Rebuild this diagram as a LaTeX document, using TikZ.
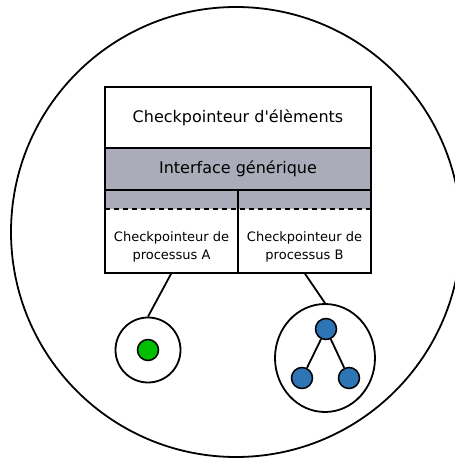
\documentclass[tikz,border=0pt]{standalone}
\usepackage{fontspec}
\newfontfamily\ckfont{DejaVu Sans}
\usetikzlibrary{positioning,shapes.geometric}
\definecolor{ckGray}{RGB}{170,172,185}
\definecolor{ckGreen}{RGB}{0,190,0}
\definecolor{ckBlue}{RGB}{46,117,182}

\begin{document}
\begin{tikzpicture}[x=1pt,y=1pt,line width=1.8pt,
  layer/.style={draw, rectangle, minimum width=266pt, inner sep=0pt, outer sep=0pt, font=\ckfont\fontsize{16}{19}\selectfont},
  procbox/.style={rectangle, minimum width=133pt, minimum height=64pt, inner sep=0pt, outer sep=0pt,
    label={[align=center, yshift=-6pt, font=\ckfont\fontsize{13}{18.5}\selectfont]center:#1}},
  proc/.style={circle, draw, line width=1.5pt, fill=#1, minimum size=21pt, inner sep=0pt}]
  \useasboundingbox (0,0) rectangle (455,459);
  % host
  \draw (236,227) circle (225);
  % element checkpointer and generic interface
  \node[layer, minimum height=61pt] (elem) at (238,341.5) {Checkpointeur d'élèments};
  \node[layer, minimum height=42pt, fill=ckGray, below=0pt of elem] (iface) {Interface générique};
  % process checkpointers
  \node[procbox={Checkpointeur de\\processus A}, below left=19pt and 0pt of iface.south] (procA) {};
  \node[procbox={Checkpointeur de\\processus B}, below right=19pt and 0pt of iface.south] (procB) {};
  \fill[ckGray] (procA.north west) rectangle (procB.north east |- iface.south);
  \draw[dash pattern=on 5pt off 4pt] (procA.north west) -- (procB.north east);
  \draw (procA.south west) rectangle (procB.north east |- iface.south);
  \draw (procA.south east) -- (procA.north east |- iface.south);
  % processes
  \node[circle, draw, minimum size=65pt, inner sep=0pt] (cellA) at (148,109) {};
  \node[proc=ckGreen] (thA) at (cellA) {};
  \node[ellipse, draw, minimum width=100pt, minimum height=108pt, inner sep=0pt] (cellB) at (325,101) {};
  \node[proc=ckBlue] (thB) at (326,130) {};
  \node[proc=ckBlue] (thB1) at (302,81) {};
  \node[proc=ckBlue] (thB2) at (349,81) {};
  \draw (thB) -- (thB1);
  \draw (thB) -- (thB2);
  \draw (procA.south) -- (cellA.north);
  \draw (procB.south) -- (cellB.north);
\end{tikzpicture}
\end{document}
